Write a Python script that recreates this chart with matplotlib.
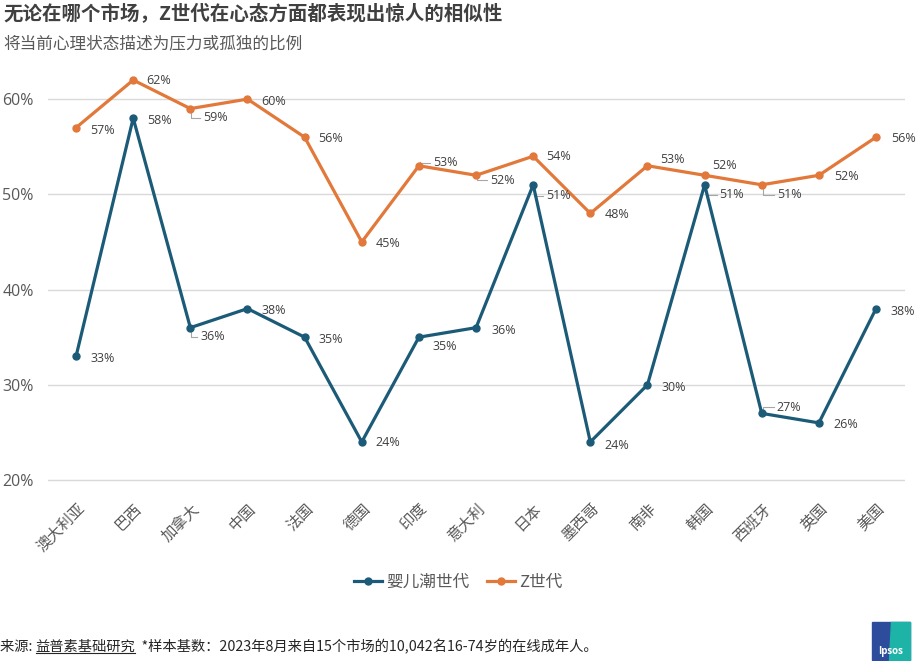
import matplotlib
matplotlib.use('Agg')
import matplotlib.pyplot as plt
from matplotlib.lines import Line2D
from matplotlib.patches import Polygon, Rectangle

# ---------------- data ----------------
markets = ['澳大利亚', '巴西', '加拿大', '中国', '法国', '德国', '印度', '意大利',
           '日本', '墨西哥', '南非', '韩国', '西班牙', '英国', '美国']
boomers = [33, 58, 36, 38, 35, 24, 35, 36, 51, 24, 30, 51, 27, 26, 38]
genz = [57, 62, 59, 60, 56, 45, 53, 52, 54, 48, 53, 52, 51, 52, 56]
yticks = [20, 30, 40, 50, 60]
series_names = ['婴儿潮世代', 'Z世代']

title = '无论在哪个市场，Z世代在心态方面都表现出惊人的相似性'
subtitle = '将当前心理状态描述为压力或孤独的比例'
src_a = '来源: '
src_b = '益普素基础研究'
src_c = '  *样本基数：2023年8月来自15个市场的10,042名16-74岁的在线成年人。'

# label offsets (pixels: right, down) and leader flags
genz_off = [(14, 3), (13, 0), (13, 9), (14, 2), (14, 1), (14, 2), (14, -3), (14, 5),
            (13, 0), (14, 1), (13, -6), (8, -10), (15, 10), (15, 1), (15, 1)]
genz_lead = [0, 0, 1, 0, 0, 0, 1, 1, 0, 0, 0, 0, 1, 0, 0]
boom_off = [(14, 2), (14, 2), (10, 9), (14, 2), (14, 2), (14, 1), (14, 9), (15, 3),
            (13, 11), (14, 4), (14, 3), (15, 10), (15, -6), (15, 2), (14, 3)]
boom_lead = [0, 0, 1, 0, 0, 0, 0, 0, 1, 0, 0, 1, 1, 0, 0]

BLUE = '#1c5b78'
ORANGE = '#e2783a'
CJK = ['Noto Sans CJK SC', 'DejaVu Sans']
NUM = ['Open Sans', 'Noto Sans CJK SC', 'DejaVu Sans']

plt.rcParams['font.family'] = CJK

W, H = 918, 661
fig = plt.figure(figsize=(W / 100, H / 100), dpi=100)
fig.patch.set_facecolor('white')

left_px, right_px, top_px, bot_px = 47.5, 904.6, 61, 484.8
ax = fig.add_axes([left_px / W, 1 - bot_px / H, (right_px - left_px) / W, (bot_px - top_px) / H])

x = list(range(len(markets)))
ax.plot(x, boomers, color=BLUE, lw=2.3, marker='o', ms=5, zorder=3, solid_capstyle='round')
ax.plot(x, genz, color=ORANGE, lw=2.3, marker='o', ms=5, zorder=3, solid_capstyle='round')

ax.set_xlim(-0.5, len(markets) - 0.5)
ax.set_ylim(19.5, 64)
ax.set_yticks(yticks)
ax.set_yticklabels([f'{v}%' for v in yticks], fontsize=11.5, color='#595959', family=NUM)
ax.set_xticks(x)
ax.set_xticklabels(markets, rotation=45, ha='right', va='top', rotation_mode='anchor',
                   fontsize=11, color='#595959')
ax.tick_params(axis='y', length=0, pad=10)
ax.tick_params(axis='x', length=0, pad=11)
for s in ax.spines.values():
    s.set_visible(False)
ax.grid(axis='y', color='#d9d9d9', lw=1)
ax.set_axisbelow(True)

def add_labels(vals, offs):
    for i, v in enumerate(vals):
        dx, dy = offs[i]
        ax.annotate(f'{v}%', xy=(i, v), xytext=(dx, -dy), textcoords='offset pixels',
                    ha='left', va='center', fontsize=9, color='#404040', family=NUM,
                    zorder=4)

add_labels(genz, genz_off)
add_labels(boomers, boom_off)

# leaders
fig.canvas.draw()
inv = ax.transData.inverted()
def add_leaders(vals, offs, leads):
    for i, v in enumerate(vals):
        if not leads[i]:
            continue
        dx, dy = offs[i]
        px, py = ax.transData.transform((i, v))
        sgn = 1 if dy > 0 else -1
        verts = [(px + 1, py - sgn * 4), (px + 1, py - dy), (px + dx - 3, py - dy)]
        dv = [inv.transform(p) for p in verts]
        ax.plot([p[0] for p in dv], [p[1] for p in dv], color='#a6a6a6', lw=0.8,
                clip_on=False, zorder=2)

add_leaders(genz, genz_off, genz_lead)
add_leaders(boomers, boom_off, boom_lead)

# legend
handles = [Line2D([], [], color=BLUE, lw=2.3, marker='o', ms=5),
           Line2D([], [], color=ORANGE, lw=2.3, marker='o', ms=5)]
leg = fig.legend(handles, series_names, loc='center', bbox_to_anchor=(458 / W, 1 - 582 / H),
                 ncol=2, frameon=False, fontsize=12, handlelength=1.7, handletextpad=0.2,
                 columnspacing=1.1, borderpad=0)
for t in leg.get_texts():
    t.set_color('#595959')

# titles
fig.text(3 / W, 1 - 14 / H, title, ha='left', va='center', fontsize=14, fontweight='bold',
         color='#404040')
fig.text(3 / W, 1 - 44 / H, subtitle, ha='left', va='center', fontsize=12, color='#595959')

# footer
fy = 1 - 647 / H
fs_foot = 10.3
r = fig.canvas.get_renderer()
ta = fig.text(0, fy, src_a, ha='left', va='center', fontsize=fs_foot, color='#262626')
ea = ta.get_window_extent(r)
tb = fig.text(ea.x1 / W, fy, src_b, ha='left', va='center', fontsize=fs_foot, color='#262626')
eb = tb.get_window_extent(r)
fig.add_artist(Line2D([eb.x0 / W, eb.x1 / W], [(eb.y0 + 1) / H, (eb.y0 + 1) / H],
                      color='#262626', lw=0.8))
fig.text(eb.x1 / W, fy, src_c, ha='left', va='center', fontsize=fs_foot, color='#262626')

# logo
lx0, ly0, lw_, lh_ = 872 / W, 1 - 660 / H, 38 / W, 38 / H
fig.add_artist(Rectangle((lx0, ly0), lw_, lh_, color='#2d4d9c', transform=fig.transFigure))
fig.add_artist(Polygon([(lx0 + lw_ * 0.5, ly0 + lh_), (lx0 + lw_, ly0 + lh_),
                        (lx0 + lw_, ly0), (lx0 + lw_ * 0.45, ly0)],
                       closed=True, color='#1db3a6', transform=fig.transFigure))
fig.text(lx0 + lw_ / 2, ly0 + lh_ * 0.22, 'Ipsos', ha='center', va='center', fontsize=7,
         fontweight='bold', color='white', family=['Open Sans', 'DejaVu Sans'])

fig.savefig('out.png', dpi=100, facecolor='white')
